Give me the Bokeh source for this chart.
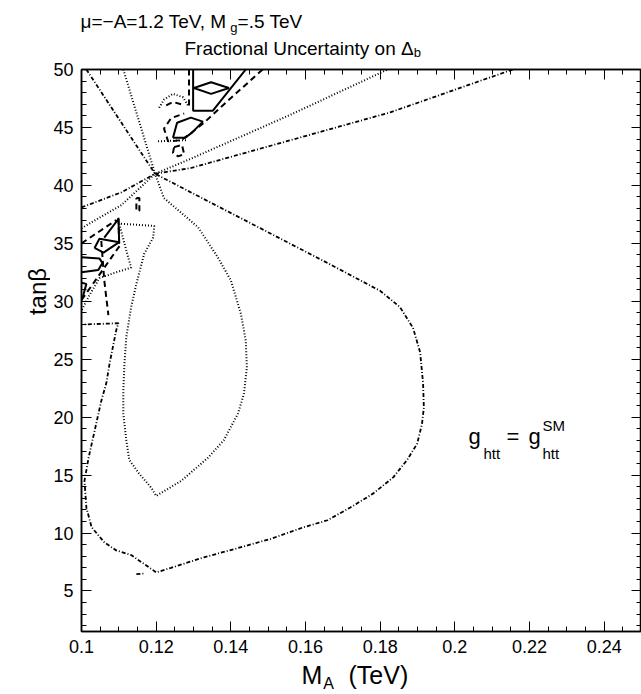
import math
from bokeh.plotting import figure
from bokeh.layouts import column, row
from bokeh.models import Range1d, FixedTicker, LinearAxis, Label, CustomJSTickFormatter
from bokeh.embed import file_html
from bokeh.resources import INLINE

# ---------------- axis ranges / ticks ----------------
X_MIN, X_MAX = 0.1, 0.25
Y_MIN, Y_MAX = 1.5, 50.0
x_major = [0.1, 0.12, 0.14, 0.16, 0.18, 0.2, 0.22, 0.24]
x_minor = [round(0.1 + 0.005 * i, 4) for i in range(31)]
y_major = [5, 10, 15, 20, 25, 30, 35, 40, 45, 50]
y_minor = list(range(2, 51))

# ---------------- contour lines (M_A in TeV, tan beta) ----------------
dd1_x = [0.1013, 0.1197, 0.1245, 0.1659, 0.1800, 0.1853, 0.1888, 0.1907, 0.1915, 0.1917,
         0.1912, 0.1899, 0.1872, 0.1835, 0.1781, 0.1720, 0.1659, 0.1595, 0.1507, 0.1419,
         0.1328, 0.1240, 0.1200, 0.1187, 0.1160, 0.1133, 0.1093, 0.1061, 0.1027, 0.1013,
         0.1008, 0.1019, 0.1035, 0.1053, 0.1067, 0.1075, 0.1093, 0.1099, 0.1005]
dd1_y = [50.0, 41.0, 40.2, 33.3, 30.9, 29.5, 27.7, 25.6, 22.9, 20.8,
         19.4, 17.7, 16.3, 14.8, 13.4, 12.2, 11.1, 10.5, 9.5, 8.7,
         7.9, 7.0, 6.6, 6.9, 7.5, 8.1, 8.5, 9.2, 10.5, 12.2,
         14.5, 16.5, 18.8, 21.4, 23.0, 24.6, 27.5, 28.1, 28.0]
dd2_x = [0.1147, 0.1168]
dd2_y = [6.45, 6.5]
dd3_x = [0.1000, 0.1107, 0.1197, 0.1293, 0.1827, 0.2155]
dd3_y = [38.1, 39.4, 41.0, 41.5, 46.3, 50.0]

dt1_x = [0.1112, 0.1197, 0.1221, 0.1312, 0.1365, 0.1400, 0.1427, 0.1440, 0.1443, 0.1435,
         0.1419, 0.1381, 0.1339, 0.1267, 0.1200, 0.1187, 0.1155, 0.1128, 0.1120, 0.1112,
         0.1112, 0.1115, 0.1120, 0.1133, 0.1147, 0.1168, 0.1192, 0.1195, 0.1101, 0.1115,
         0.1125, 0.1133, 0.1093, 0.1048, 0.1021, 0.1000]
dt1_y = [50.0, 41.0, 38.9, 36.4, 33.8, 31.8, 28.9, 26.6, 24.3, 22.0,
         20.3, 18.0, 16.5, 14.5, 13.2, 13.9, 15.1, 16.3, 18.0, 20.3,
         22.3, 24.6, 26.9, 29.5, 31.5, 34.1, 35.5, 36.5, 36.7, 35.0,
         33.8, 32.9, 32.5, 32.0, 30.5, 29.2]
dt2_x = [0.1000, 0.1107, 0.1197, 0.1293, 0.1560, 0.1820]
dt2_y = [36.3, 38.3, 41.0, 42.3, 46.1, 50.0]
dt3_x = [0.1208, 0.1221, 0.1245, 0.1272, 0.1285]
dt3_y = [46.7, 47.4, 47.9, 47.6, 46.9]
dt4_x = [0.1205, 0.1280]
dt4_y = [43.8, 43.9]

s1_x = [0.1299, 0.1299, 0.1352, 0.1440]
s1_y = [50.0, 46.45, 46.45, 50.0]
s2_x = [0.1301, 0.1347, 0.1395, 0.1347, 0.1301]
s2_y = [48.4, 48.9, 48.4, 47.9, 48.4]
s3_x = [0.1245, 0.1256, 0.1293, 0.1325, 0.1296, 0.1277, 0.1245]
s3_y = [44.1, 45.4, 45.85, 45.5, 44.55, 44.1, 44.1]
s4_x = [0.1035, 0.1048, 0.1101, 0.1059, 0.1035]
s4_y = [34.6, 35.4, 35.1, 34.2, 34.6]
s5_x = [0.1061, 0.1099, 0.1101]
s5_y = [35.5, 37.1, 35.0]
s6_x = [0.1000, 0.1048, 0.1056, 0.1045, 0.1000]
s6_y = [33.8, 33.7, 33.3, 32.7, 32.5]
s7_x = [0.1000, 0.1013, 0.1003]
s7_y = [31.6, 31.5, 30.3]

da1_x = [0.1485, 0.1392, 0.1328, 0.1293, 0.1267, 0.1232, 0.1221, 0.1240, 0.1275]
da1_y = [50.0, 47.3, 45.4, 44.5, 43.9, 43.8, 44.9, 45.8, 46.2]
da2_x = [0.1288, 0.1288]
da2_y = [50.0, 46.7]
da3_x = [0.1227, 0.1245, 0.1267]
da3_y = [46.9, 47.2, 47.0]
da4_x = [0.1248, 0.1269, 0.1275, 0.1259, 0.1245, 0.1248]
da4_y = [43.3, 43.5, 42.7, 42.5, 42.8, 43.3]
da5_x = [0.1147, 0.1155, 0.1155, 0.1147, 0.1147]
da5_y = [38.9, 38.9, 37.8, 37.8, 38.9]
da6_x = [0.1000, 0.1093]
da6_y = [35.0, 37.0]
da7_x = [0.1000, 0.1107]
da7_y = [30.1, 35.0]
da8_x = [0.1099, 0.1101]
da8_y = [37.2, 34.6]
da9_x = [0.1053, 0.1061, 0.1072]
da9_y = [35.2, 31.8, 28.8]

# ---------------- layout geometry (page pixels) ----------------
FONT = "Liberation Sans"
W, H = 641, 694
TOP_H = 61          # title strip
LEFT_W = 50         # strip for the y-axis title
BOT_H = 32          # strip for the x-axis title
MAIN_H = H - TOP_H - BOT_H
MAIN_W = W - LEFT_W
FRAME_L, FRAME_T, FRAME_B = 80, 69, 631
TEXT_SHIFT = 7      # empirical baseline correction (px)


def blank(width, height):
    f = figure(width=width, height=height, x_range=(0, 1), y_range=(0, 1),
               output_backend="svg", toolbar_location=None,
               x_axis_location=None, y_axis_location=None,
               min_border_left=0, min_border_right=0, min_border_top=0, min_border_bottom=0)
    f.grid.visible = False
    f.outline_line_color = None
    f.background_fill_color = "white"
    f.border_fill_color = "white"
    return f


top_fig = blank(W, TOP_H)
left_fig = blank(LEFT_W, MAIN_H)
bot_fig = blank(W, BOT_H)

p = figure(width=MAIN_W, height=MAIN_H, x_range=Range1d(X_MIN, X_MAX), y_range=Range1d(Y_MIN, Y_MAX),
           output_backend="svg", toolbar_location=None,
           x_axis_location=None, y_axis_location=None,
           min_border_left=FRAME_L - LEFT_W, min_border_right=0,
           min_border_top=FRAME_T - TOP_H, min_border_bottom=TOP_H + MAIN_H - FRAME_B)
p.grid.visible = False
p.outline_line_color = "black"
p.outline_line_width = 1.5
p.background_fill_color = "white"
p.border_fill_color = "white"

fmt = CustomJSTickFormatter(code="return String(Math.round(tick*1000)/1000);")


def make_axis(ticker, labels):
    ax = LinearAxis(ticker=ticker, formatter=fmt,
                    major_tick_in=10, major_tick_out=0, minor_tick_in=5, minor_tick_out=0,
                    axis_line_color="black", axis_line_width=1.5,
                    major_tick_line_color="black", minor_tick_line_color="black",
                    major_tick_line_width=1, minor_tick_line_width=1,
                    major_label_text_font=FONT, major_label_text_color="black")
    if labels:
        ax.major_label_text_font_size = "18px"
        ax.major_label_standoff = 8
    else:
        ax.major_label_text_font_size = "0px"
        ax.major_label_text_alpha = 0
        ax.major_label_standoff = 0
    return ax


xt = FixedTicker(ticks=x_major, minor_ticks=x_minor)
yt = FixedTicker(ticks=y_major, minor_ticks=y_minor)
p.add_layout(make_axis(xt, True), "below")
p.add_layout(make_axis(yt, True), "left")
p.add_layout(make_axis(xt, False), "above")
p.add_layout(make_axis(yt, False), "right")

for xs, ys in [(dd1_x, dd1_y), (dd2_x, dd2_y), (dd3_x, dd3_y)]:
    p.line(xs, ys, line_color="black", line_width=1.8, line_dash="4 2 1 2")
for xs, ys in [(dt1_x, dt1_y), (dt2_x, dt2_y), (dt3_x, dt3_y), (dt4_x, dt4_y)]:
    p.line(xs, ys, line_color="black", line_width=2, line_dash="1 2")
for xs, ys in [(s1_x, s1_y), (s2_x, s2_y), (s3_x, s3_y), (s4_x, s4_y), (s5_x, s5_y),
               (s6_x, s6_y), (s7_x, s7_y)]:
    p.line(xs, ys, line_color="black", line_width=2)
for xs, ys in [(da1_x, da1_y), (da2_x, da2_y), (da3_x, da3_y), (da4_x, da4_y), (da5_x, da5_y),
               (da6_x, da6_y), (da7_x, da7_y), (da8_x, da8_y), (da9_x, da9_y)]:
    p.line(xs, ys, line_color="black", line_width=2, line_dash="6 4")

# ---------------- text ----------------
AW = {' ': 278, ',': 278, '.': 278, '=': 584, '\u2212': 584, 'A': 667, 'M': 833, 'T': 611,
      'V': 667, 'S': 667, 'F': 611, 'U': 722, 'e': 556, 'g': 556, 'h': 556, 't': 278,
      'r': 333, 'a': 556, 'c': 500, 'i': 222, 'o': 556, 'n': 556, 'l': 222, 'y': 500,
      'b': 556, '(': 333, ')': 333, '\u03bc': 576, '\u0394': 668, '\u03b2': 575}


def tw(s, size):
    return sum(AW.get(c, 556) for c in s) * size / 1000.0


def put(fig, x0, y0, txt, px, py, size, align="left", angle=0.0):
    """place text with baseline at page pixel (px, py); (x0, y0) = page pixel of the figure frame's bottom-left"""
    if angle:
        px -= TEXT_SHIFT
    else:
        py -= TEXT_SHIFT
    fig.add_layout(Label(x=px - x0, y=y0 - py, x_units="screen", y_units="screen", text=txt,
                         text_font=FONT, text_font_size=f"{size}px", text_align=align,
                         text_baseline="alphabetic", angle=angle, text_color="black"))


def seq(fig, x0, y0, parts, start):
    x = start
    for txt, size, base in parts:
        put(fig, x0, y0, txt, x, base, size)
        x += tw(txt, size)


# titles (top strip: frame bottom-left at page (0, TOP_H))
seq(top_fig, 0, TOP_H, [("\u03bc=\u2212A=1.2 TeV, M", 19, 28), ("g", 13, 34), ("=.5 TeV", 19, 28)], 80)
seq(top_fig, 0, TOP_H, [("Fractional Uncertainty on \u0394", 19, 55), ("b", 13, 59)], 184)

# label inside plot (main frame bottom-left at page (FRAME_L, FRAME_B))
put(p, FRAME_L, FRAME_B, "g", 467, 443, 22)
put(p, FRAME_L, FRAME_B, "htt", 482, 460, 15)
put(p, FRAME_L, FRAME_B, "=", 505, 443, 22)
put(p, FRAME_L, FRAME_B, "g", 527, 443, 22)
put(p, FRAME_L, FRAME_B, "htt", 541, 460, 15)
put(p, FRAME_L, FRAME_B, "SM", 541, 432, 15)

# axis titles
put(bot_fig, 0, H, "M", 301, 681, 25)
put(bot_fig, 0, H, "A", 301 + tw("M", 25) + 1, 690, 16)
put(bot_fig, 0, H, "(TeV)", 348, 681, 25)
put(left_fig, 0, TOP_H + MAIN_H, "tan\u03b2", 44, 322, 24, align="center", angle=math.pi / 2)

layout = column(top_fig, row(left_fig, p), bot_fig)
open("out.html", "w").write(file_html(layout, INLINE))
